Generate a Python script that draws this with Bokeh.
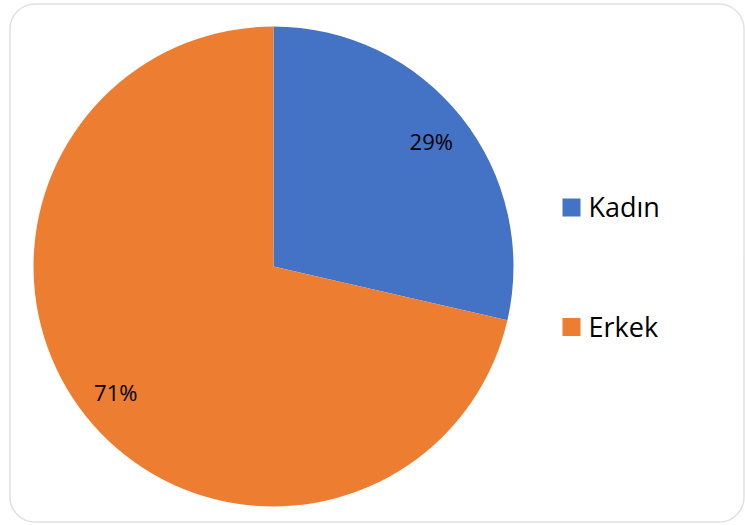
import math
from bokeh.plotting import figure
from bokeh.models import Range1d, BoxAnnotation, ColumnDataSource
from bokeh.core.properties import value
from bokeh.embed import file_html
from bokeh.resources import INLINE

categories = ["Kadın", "Erkek"]
shares = [28.6, 71.4]
labels = ["29%", "71%"]
colors = ["#4472C4", "#ED7D31"]

W, H = 745, 525
p = figure(width=W, height=H, output_backend="svg", toolbar_location=None,
           x_range=Range1d(0, W), y_range=Range1d(0, H), min_border=0)
p.axis.visible = False
p.grid.visible = False
p.outline_line_color = None
p.background_fill_color = "white"

def X(sx):
    return sx

def Y(sy):
    return H - sy

cx, cy, r = X(273), Y(266), 240
total = sum(shares)
starts, ends = [], []
a = math.pi / 2
for s in shares:
    sweep = 2 * math.pi * s / total
    starts.append(a - sweep)
    ends.append(a)
    a -= sweep

src = ColumnDataSource(dict(start=starts, end=ends, color=colors, cat=categories))
p.wedge(x=cx, y=cy, radius=r, radius_units="screen", start_angle="start", end_angle="end",
        fill_color="color", line_color=None, source=src)

lx, ly = [], []
for s0, e0 in zip(starts, ends):
    mid = (s0 + e0) / 2
    lx.append(cx + 0.84 * r * math.cos(mid))
    ly.append(cy + 0.84 * r * math.sin(mid))
p.text(x=lx, y=ly, text=labels, text_font=value("Open Sans"), text_font_size="22px",
       text_align="center", text_baseline="middle", text_color="#000000")

leg_x = X(562)
leg_y = [Y(207), Y(326.5)]
p.rect(x=[leg_x + 9] * 2, y=leg_y, width=18, height=18, width_units="screen",
       height_units="screen", fill_color=colors, line_color=None)
p.text(x=[X(588)] * 2, y=[v + 1 for v in leg_y], text=categories, text_font=value("Open Sans"),
       text_font_size="27px", text_align="left", text_baseline="middle", text_color="#000000")

border = BoxAnnotation(left=X(9.5), right=X(743.5), top=Y(3.5), bottom=Y(521.5),
                       fill_alpha=0, line_color="#9a9a9a", line_width=1.5, border_radius=25)
p.add_layout(border)

open("out.html", "w").write(file_html(p, INLINE))
